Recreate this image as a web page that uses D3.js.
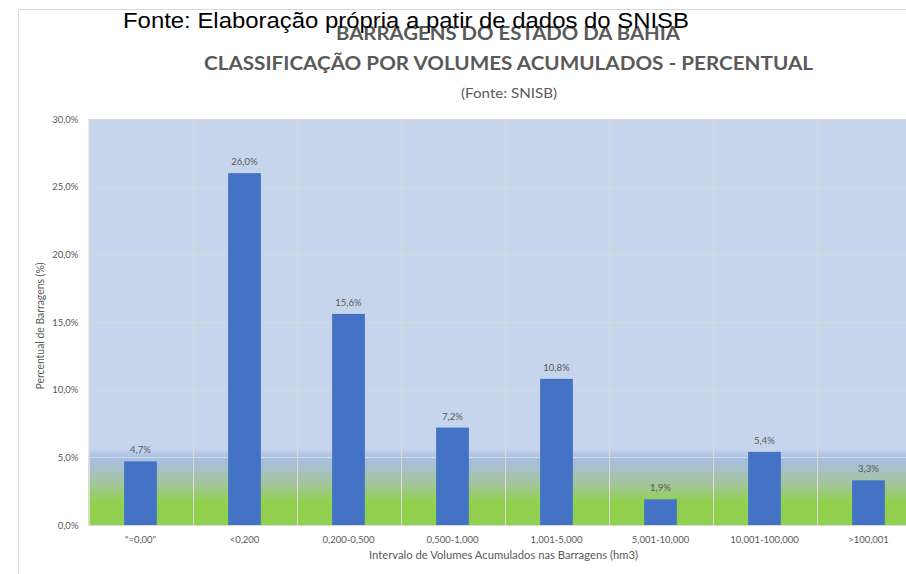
<!DOCTYPE html>
<html>
<head>
<meta charset="utf-8">
<script src="https://cdn.jsdelivr.net/npm/d3@7"></script>
<style>
  html, body { margin: 0; padding: 0; background: #fff; overflow: hidden; }
  svg { display: block; }
</style>
</head>
<body>
<div id="chart"></div>
<script>
// data
const categories = ["\"=0,00\"", "<0,200", "0,200-0,500", "0,500-1,000", "1,001-5,000", "5,001-10,000", "10,001-100,000", ">100,001"];
const percentValues = [4.7, 26.0, 15.6, 7.2, 10.8, 1.9, 5.4, 3.3];
const yTicks = [0, 5, 10, 15, 20, 25, 30];

const width = 906;
const height = 574;
const plot = { left: 88.5, top: 119, right: 920.5, bottom: 525 };
const labelColor = "#595959";
const calibri = "Lato, 'Open Sans', sans-serif";
const fmt = v => d3.format(".1f")(v).replace(".", ",") + "%";

const svg = d3.select("#chart").append("svg")
    .attr("width", width)
    .attr("height", height);

// chart frame
svg.append("rect")
    .attr("x", 18.5).attr("y", 9.5)
    .attr("width", 1000).attr("height", 1000)
    .attr("fill", "#fff")
    .attr("stroke", "#d9d9d9");

// scales
const x = d3.scaleBand()
    .domain(categories)
    .range([plot.left, plot.right])
    .padding(0);

const y = d3.scaleLinear()
    .domain([0, 30])
    .range([plot.bottom, plot.top]);

// plot background gradient (blue -> green near bottom)
const defs = svg.append("defs");
const grad = defs.append("linearGradient")
    .attr("id", "bg")
    .attr("gradientUnits", "userSpaceOnUse")
    .attr("x1", 0).attr("x2", 0)
    .attr("y1", plot.top).attr("y2", plot.bottom);
const stop = (v, c) => grad.append("stop")
    .attr("offset", (y(v) - plot.top) / (plot.bottom - plot.top))
    .attr("stop-color", c);
stop(30, "#c7d5ec");
stop(5.6, "#c7d5ec");
stop(5.0, "#a8bee7");
stop(3.0, "#a3c59a");
stop(1.7, "#92d050");
stop(0, "#92d050");

svg.append("rect")
    .attr("x", plot.left).attr("y", plot.top)
    .attr("width", plot.right - plot.left)
    .attr("height", plot.bottom - plot.top)
    .attr("fill", "url(#bg)");

// horizontal gridlines
svg.append("g")
    .selectAll("line")
    .data(yTicks)
    .join("line")
    .attr("x1", plot.left).attr("x2", plot.right)
    .attr("y1", d => Math.round(y(d)) + 0.5)
    .attr("y2", d => Math.round(y(d)) + 0.5)
    .attr("stroke", "#d9d9d9")
    .attr("stroke-width", 1);

// vertical gridlines at category boundaries
svg.append("g")
    .selectAll("line")
    .data(categories)
    .join("line")
    .attr("x1", d => Math.round(x(d)) + 0.5)
    .attr("x2", d => Math.round(x(d)) + 0.5)
    .attr("y1", plot.top).attr("y2", plot.bottom)
    .attr("stroke", "#d9d9d9");

// bars
const barW = x.bandwidth() * 0.315;
svg.append("g")
    .selectAll("rect")
    .data(percentValues)
    .join("rect")
    .attr("x", (d, i) => x(categories[i]) + x.bandwidth() / 2 - barW / 2)
    .attr("y", d => y(d))
    .attr("width", barW)
    .attr("height", d => y(0) - y(d))
    .attr("fill", "#4472c4");

// bar value labels
svg.append("g")
    .selectAll("text")
    .data(percentValues)
    .join("text")
    .attr("x", (d, i) => x(categories[i]) + x.bandwidth() / 2)
    .attr("y", d => y(d) - 8)
    .attr("text-anchor", "middle")
    .attr("font-family", calibri)
    .attr("font-size", 9.5)
    .attr("fill", labelColor)
    .text(d => fmt(d));

// y axis
svg.append("g")
    .attr("transform", `translate(${plot.left - 10},0)`)
    .call(d3.axisLeft(y).tickValues(yTicks).tickSize(0).tickFormat(fmt))
    .call(g => g.select(".domain").remove())
    .call(g => g.selectAll("text")
        .attr("font-family", calibri)
        .attr("font-size", 9.5)
        .attr("fill", labelColor)
        .attr("x", 0));

// x axis
svg.append("g")
    .attr("transform", `translate(0,${plot.bottom})`)
    .call(d3.axisBottom(x).tickSize(0).tickPadding(11))
    .call(g => g.select(".domain").attr("stroke", "#d9d9d9"))
    .call(g => g.selectAll("text")
        .attr("font-family", calibri)
        .attr("font-size", 9.5)
        .attr("fill", labelColor));

// axis titles
svg.append("text")
    .attr("x", (plot.left + plot.right) / 2 - 1)
    .attr("y", 559)
    .attr("text-anchor", "middle")
    .attr("font-family", calibri)
    .attr("font-size", 10.5)
    .attr("fill", labelColor)
    .attr("textLength", 269)
    .attr("lengthAdjust", "spacingAndGlyphs")
    .text("Intervalo de Volumes Acumulados nas Barragens (hm3)");

svg.append("text")
    .attr("transform", `translate(44,${(plot.top + plot.bottom) / 2 + 4}) rotate(-90)`)
    .attr("text-anchor", "middle")
    .attr("font-family", calibri)
    .attr("font-size", 10.5)
    .attr("fill", labelColor)
    .attr("textLength", 127)
    .attr("lengthAdjust", "spacingAndGlyphs")
    .text("Percentual de Barragens (%)");

// titles
svg.append("text")
    .attr("x", 508).attr("y", 40)
    .attr("text-anchor", "middle")
    .attr("font-family", calibri)
    .attr("font-weight", "bold")
    .attr("font-size", 18)
    .attr("fill", labelColor)
    .attr("textLength", 344)
    .attr("lengthAdjust", "spacingAndGlyphs")
    .text("BARRAGENS DO ESTADO DA BAHIA");

svg.append("text")
    .attr("x", 508.5).attr("y", 70)
    .attr("text-anchor", "middle")
    .attr("font-family", calibri)
    .attr("font-weight", "bold")
    .attr("font-size", 18)
    .attr("fill", labelColor)
    .attr("textLength", 609)
    .attr("lengthAdjust", "spacingAndGlyphs")
    .text("CLASSIFICAÇÃO POR VOLUMES ACUMULADOS - PERCENTUAL");

svg.append("text")
    .attr("x", 509).attr("y", 98)
    .attr("text-anchor", "middle")
    .attr("font-family", calibri)
    .attr("font-size", 13.5)
    .attr("fill", labelColor)
    .attr("textLength", 96)
    .attr("lengthAdjust", "spacingAndGlyphs")
    .text("(Fonte: SNISB)");

// source note overlapping the chart top
svg.append("text")
    .attr("x", 123).attr("y", 28)
    .attr("font-family", "'Liberation Sans', Arial, sans-serif")
    .attr("font-size", 22)
    .attr("fill", "#000")
    .attr("textLength", 566)
    .attr("lengthAdjust", "spacingAndGlyphs")
    .text("Fonte: Elaboração própria a patir de dados do SNISB");
</script>
</body>
</html>
